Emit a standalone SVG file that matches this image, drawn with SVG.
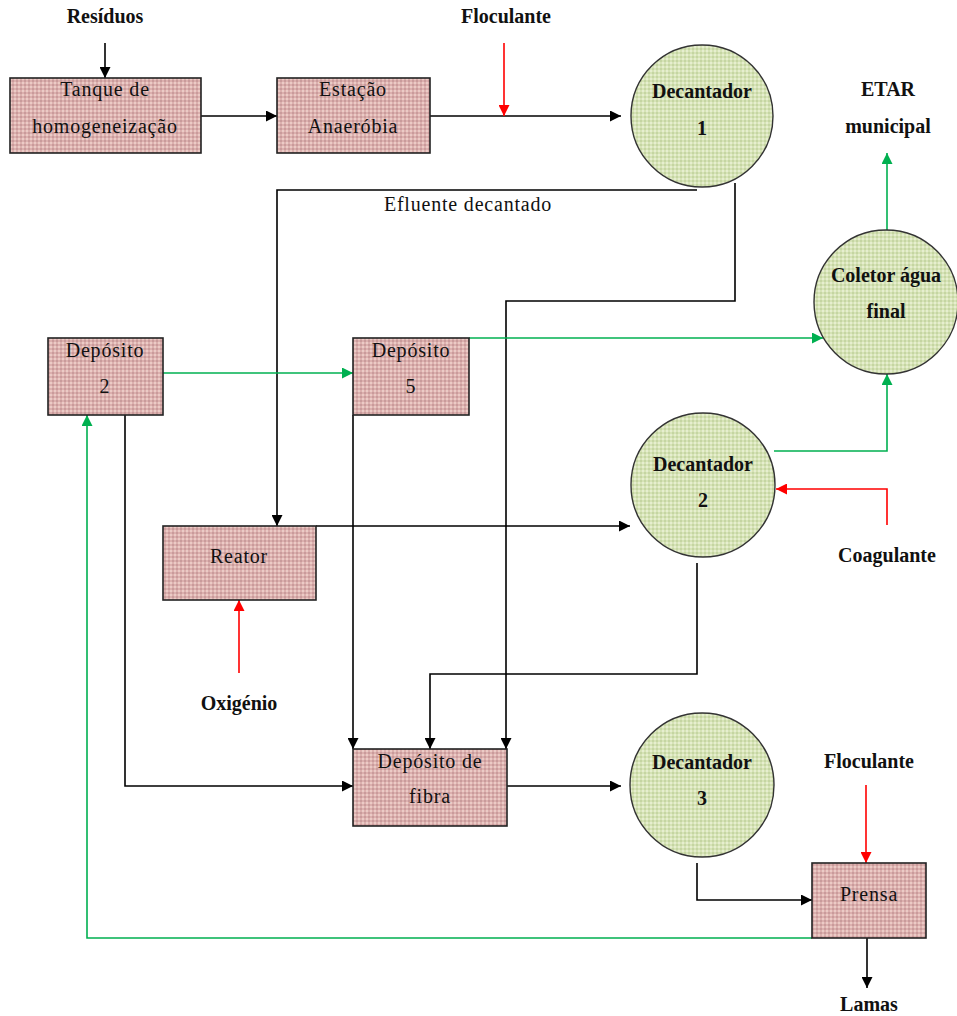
<svg xmlns="http://www.w3.org/2000/svg" width="957" height="1016" viewBox="0 0 957 1016">
  <defs>
    <pattern id="pinkTex" width="4" height="4" patternUnits="userSpaceOnUse">
      <rect width="4" height="4" fill="#dcb0ae"/>
      <rect width="2" height="2" fill="#c99b9b"/>
      <rect x="2" y="2" width="2" height="2" fill="#ebcbc6"/>
    </pattern>
    <pattern id="greenTex" width="4" height="4" patternUnits="userSpaceOnUse">
      <rect width="4" height="4" fill="#d6e3b6"/>
      <rect width="2" height="2" fill="#c5d5a2"/>
      <rect x="2" y="2" width="2" height="2" fill="#e6eecf"/>
    </pattern>
    <marker id="arrBlack" viewBox="0 0 10 10" refX="10" refY="5" markerWidth="11" markerHeight="11" markerUnits="userSpaceOnUse" orient="auto">
      <path d="M0,0 L10,5 L0,10 Z" fill="#000"/>
    </marker>
    <marker id="arrGreen" viewBox="0 0 10 10" refX="10" refY="5" markerWidth="11" markerHeight="11" markerUnits="userSpaceOnUse" orient="auto">
      <path d="M0,0 L10,5 L0,10 Z" fill="#00b050"/>
    </marker>
    <marker id="arrRed" viewBox="0 0 10 10" refX="10" refY="5" markerWidth="11" markerHeight="11" markerUnits="userSpaceOnUse" orient="auto">
      <path d="M0,0 L10,5 L0,10 Z" fill="#ff0000"/>
    </marker>
  </defs>
  <style>
    .box { fill: url(#pinkTex); stroke: #222; stroke-width: 1.6; }
    .tank { fill: url(#greenTex); stroke: #333; stroke-width: 1.4; }
    text { font-family: "Liberation Serif", "Times New Roman", serif; font-size: 20px; fill: #111; text-anchor: middle; }
    .lbl { letter-spacing: 0.8px; }
    .b { font-weight: bold; }
    .flow { fill: none; stroke: #000; stroke-width: 1.6; marker-end: url(#arrBlack); }
    .water { fill: none; stroke: #00b050; stroke-width: 1.6; marker-end: url(#arrGreen); }
    .dose { fill: none; stroke: #ff0000; stroke-width: 1.6; marker-end: url(#arrRed); }
  </style>

  <rect width="957" height="1016" fill="#fff"/>

  <!-- connectors -->
  <g id="connectors">
    <path class="flow" d="M105,43 V78"/>
    <path class="flow" d="M201,116 H277"/>
    <path class="flow" d="M430,116 H621"/>
    <path class="dose" d="M504,43 V116"/>
    <path class="flow" d="M697,190 H277 V526"/>
    <path class="flow" d="M735,183 V301 H506 V749"/>
    <path class="water" d="M163,373 H353"/>
    <path class="water" d="M469,338 H823"/>
    <path class="water" d="M887,230 V153"/>
    <path class="water" d="M774,451 H887 V374"/>
    <path class="dose" d="M887,525 V489 H776"/>
    <path class="flow" d="M316,526 H630"/>
    <path class="dose" d="M239,673 V600"/>
    <path class="flow" d="M125,415 V786 H353"/>
    <path class="flow" d="M353,415 V749"/>
    <path class="flow" d="M697,563 V674 H430 V749"/>
    <path class="flow" d="M507,786 H621"/>
    <path class="flow" d="M697,863 V900 H812"/>
    <path class="dose" d="M866,785 V863"/>
    <path class="flow" d="M867,938 V988"/>
    <path class="water" d="M812,938 H87 V415"/>
  </g>

  <!-- external inputs and outputs -->
  <g id="labels">
    <text class="b" x="105" y="23">Resíduos</text>
    <text class="b" x="506" y="23">Floculante</text>
    <text class="b" x="888" y="96">ETAR</text>
    <text class="b" x="888" y="133">municipal</text>
    <text x="468" y="211" class="lbl">Efluente decantado</text>
    <text class="b" x="887" y="562">Coagulante</text>
    <text class="b" x="239" y="710">Oxigénio</text>
    <text class="b" x="869" y="768">Floculante</text>
    <text class="b" x="869" y="1011">Lamas</text>
  </g>

  <g id="tanque">
    <rect class="box" x="10" y="78" width="191" height="75"/>
    <text class="lbl" x="105" y="96">Tanque de</text>
    <text class="lbl" x="105" y="133">homogeneização</text>
  </g>

  <g id="estacao">
    <rect class="box" x="277" y="78" width="153" height="75"/>
    <text class="lbl" x="353" y="96">Estação</text>
    <text class="lbl" x="353" y="133">Anaeróbia</text>
  </g>

  <g id="decantador1">
    <circle class="tank" cx="702" cy="116" r="71"/>
    <text class="b" x="702" y="98">Decantador</text>
    <text class="b" x="702" y="135">1</text>
  </g>

  <g id="coletor">
    <circle class="tank" cx="886" cy="302" r="72"/>
    <text class="b" x="886" y="282">Coletor água</text>
    <text class="b" x="886" y="318">final</text>
  </g>

  <g id="deposito2">
    <rect class="box" x="48" y="338" width="115" height="77"/>
    <text class="lbl" x="105" y="357">Depósito</text>
    <text class="lbl" x="105" y="393">2</text>
  </g>

  <g id="deposito5">
    <rect class="box" x="353" y="338" width="116" height="77"/>
    <text class="lbl" x="411" y="357">Depósito</text>
    <text class="lbl" x="411" y="393">5</text>
  </g>

  <g id="decantador2">
    <circle class="tank" cx="703" cy="485" r="72"/>
    <text class="b" x="703" y="471">Decantador</text>
    <text class="b" x="703" y="507">2</text>
  </g>

  <g id="reator">
    <rect class="box" x="163" y="526" width="153" height="74"/>
    <text class="lbl" x="239" y="563">Reator</text>
  </g>

  <g id="deposito-fibra">
    <rect class="box" x="353" y="749" width="154" height="77"/>
    <text class="lbl" x="430" y="768">Depósito de</text>
    <text class="lbl" x="430" y="803">fibra</text>
  </g>

  <g id="decantador3">
    <circle class="tank" cx="702" cy="785" r="72"/>
    <text class="b" x="702" y="769">Decantador</text>
    <text class="b" x="702" y="805">3</text>
  </g>

  <g id="prensa">
    <rect class="box" x="812" y="863" width="114" height="75"/>
    <text class="lbl" x="869" y="901">Prensa</text>
  </g>
</svg>
